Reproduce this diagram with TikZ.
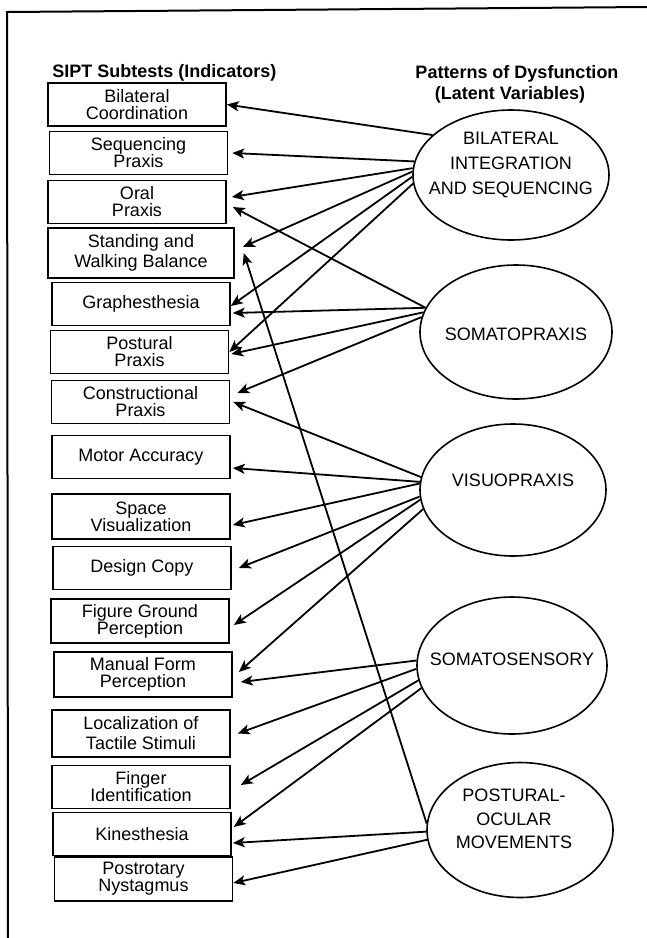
\documentclass[tikz,border=0pt]{standalone}
\usepackage{fontspec}
\setmainfont{Liberation Sans}
\usetikzlibrary{shapes.geometric, arrows.meta}

\begin{document}
\begin{tikzpicture}[
  x=0.5pt, y=-0.5pt,
  indicator/.style={rectangle, draw, line width=0.8pt, minimum width=89pt,
              minimum height=21.5pt, inner sep=1pt, align=center,
              font=\fontsize{9}{8.5}\selectfont},
  latent/.style={ellipse, draw, line width=0.8pt, inner sep=0pt},
  lvtext/.style={align=center, font=\fontsize{9}{12.5}\selectfont},
  header/.style={font=\fontsize{9}{10}\selectfont\bfseries, inner sep=0pt, anchor=base},
  arrow/.style={-{Stealth[length=6pt, width=5pt, inset=1.5pt]}, line width=0.9pt},
  frame/.style={line width=1pt},
]
  \useasboundingbox (0,0) rectangle (647,938);

  % Frame (top and left only)
  \draw[frame] (8,938) -- (7,12) -- (647,7);

  % Headings
  \node[header, anchor=base west] (siptHead) at (52,77) {SIPT Subtests (Indicators)};
  \node[header] (lvHead) at (517,78) {Patterns of Dysfunction};
  \node[header] (lvSub) at (510,99) {(Latent Variables)};

  % Left column: SIPT subtests
  \node[indicator] (bilcoord) at (137,104.5) {Bilateral\\Coordination};
  \node[indicator] (seqpraxis) at (138.5,153) {Sequencing\\Praxis};
  \node[indicator] (oralpraxis) at (137,202) {Oral\\Praxis};
  \node[indicator, minimum width=93pt, minimum height=25pt] (standing) at (141,253)
    {Standing and\\[1.5pt]Walking Balance};
  \node[indicator] (graphesth) at (141,304) {Graphesthesia};
  \node[indicator] (postpraxis) at (139.5,352) {Postural\\Praxis};
  \node[indicator] (constpraxis) at (140.5,402) {Constructional\\Praxis};
  \node[indicator] (motoracc) at (141,457) {Motor Accuracy};
  \node[indicator, minimum height=22.5pt] (spacevis) at (141,516.5) {Space\\Visualization};
  \node[indicator] (designcopy) at (142,568) {Design Copy};
  \node[indicator, minimum height=22pt] (figground) at (140,621) {Figure Ground\\Perception};
  \node[indicator, minimum height=22.5pt] (manualform) at (143,674.5) {Manual Form\\Perception};
  \node[indicator, minimum height=23.5pt] (localtact) at (141,733.5)
    {Localization of\\[1.5pt]Tactile Stimuli};
  \node[indicator] (fingerid) at (141,787) {Finger\\Identification};
  \node[indicator] (kinesth) at (142,834) {Kinesthesia};
  \node[indicator, minimum height=22pt] (postrot) at (143.5,879) {Postrotary\\Nystagmus};

  % Right column: latent variables
  \node[latent, minimum width=98pt, minimum height=65pt,
    label={[lvtext, yshift=5pt]center:BILATERAL\\INTEGRATION\\AND SEQUENCING}] (bis) at (511,175) {};
  \node[latent, minimum width=96pt, minimum height=67pt,
    label={[lvtext, yshift=-1pt]center:SOMATOPRAXIS}] (somato) at (516,332) {};
  \node[latent, minimum width=93pt, minimum height=66pt,
    label={[lvtext, yshift=5pt]center:VISUOPRAXIS}] (visuo) at (513,490) {};
  \node[latent, minimum width=95pt, minimum height=68.5pt,
    label={[lvtext, yshift=3pt]center:SOMATOSENSORY}] (somasens) at (512,665.5) {};
  \node[latent, minimum width=93pt, minimum height=67.5pt,
    label={[lvtext, font=\fontsize{9}{11.75}\selectfont, yshift=5.5pt, xshift=-3pt]center:POSTURAL-\\OCULAR\\MOVEMENTS}] (postoc) at (520,830) {};

  % Bilateral integration and sequencing
  \draw[arrow] (bis.153) -- (bilcoord.east);
  \draw[arrow] (bis.172) -- ([xshift=2pt]seqpraxis.east);
  \draw[arrow] (bis.176) -- ([xshift=2.5pt,yshift=2.5pt]oralpraxis.east);
  \draw[arrow] (bis.178) -- ([xshift=4pt,yshift=3pt]standing.east);
  \draw[arrow] (bis.181) -- ([yshift=-1pt]graphesth.east);
  \draw[arrow] (bis.185) -- (postpraxis.east);

  % Somatopraxis
  \draw[arrow] (somato.165) -- ([xshift=3pt,yshift=-2.5pt]oralpraxis.east);
  \draw[arrow] (somato.165) -- ([xshift=1pt,yshift=-4.5pt]graphesth.east);
  \draw[arrow] (somato.168) -- ([xshift=1pt,yshift=-1pt]postpraxis.east);
  \draw[arrow] (somato.171) -- ([xshift=3.5pt,yshift=4.5pt]constpraxis.east);

  % Visuopraxis
  \draw[arrow] (visuo.172) -- ([xshift=1.5pt]constpraxis.east);
  \draw[arrow] (visuo.175) -- ([xshift=1pt,yshift=-5.5pt]motoracc.east);
  \draw[arrow] (visuo.176) -- ([xshift=1pt,yshift=-4.25pt]spacevis.east);
  \draw[arrow] (visuo.184) -- ([xshift=3.5pt]designcopy.east);
  \draw[arrow] (visuo.186) -- ([xshift=2pt,yshift=-2pt]figground.east);
  \draw[arrow] (visuo.192) -- ([xshift=3pt,yshift=1.25pt]manualform.east);

  % Somatosensory
  \draw[arrow] (somasens.177) -- ([xshift=4pt,yshift=-3.75pt]manualform.east);
  \draw[arrow] (somasens.182) -- ([xshift=3.5pt]localtact.east);
  \draw[arrow] (somasens.189) -- ([xshift=5pt,yshift=1pt]fingerid.east);
  \draw[arrow] (somasens.194) -- ([xshift=1pt,yshift=3.5pt]kinesth.east);

  % Postural-ocular movements
  \draw[arrow] (postoc.176) -- ([xshift=4.5pt]standing.east);
  \draw[arrow] (postoc.181) -- ([xshift=0.5pt,yshift=-4.5pt]kinesth.east);
  \draw[arrow] (postoc.186) -- ([yshift=-2pt]postrot.east);
\end{tikzpicture}
\end{document}
